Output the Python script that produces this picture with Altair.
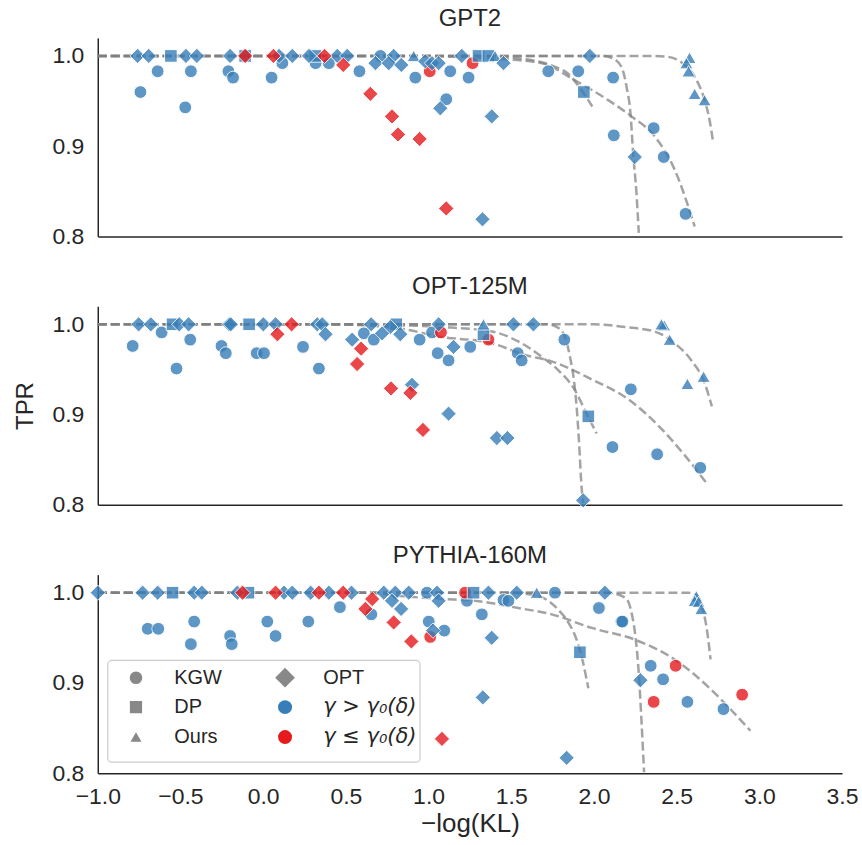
import altair as alt
import pandas as pd

FONT = "Liberation Sans"
TXT = "#262626"
BLUE = "#377eb8"
RED = "#e41a1c"
GRAY = "#888888"
W, H = 746, 199

PANELS = ["GPT2", "OPT-125M", "PYTHIA-160M"]
METHODS = ["KGW", "DP", "Ours", "OPT"]
SHAPES = ["circle", "square", "triangle-up", "diamond"]
MSIZES = [165, 160, 175, 235]
GROUPS = ["hi", "lo"]
XTICKS = [-1.0, -0.5, 0.0, 0.5, 1.0, 1.5, 2.0, 2.5, 3.0, 3.5]
YTICKS = [0.8, 0.9, 1.0]

# ---------------- GPT2 ----------------
p1_kgw_hi_x = [-0.742, -0.638, -0.471, -0.437, -0.210, -0.182, 0.051, 0.116, 0.317, 0.397, 0.582, 0.709,
               0.920, 1.107, 1.131, 1.242, 1.724, 1.905, 2.116, 2.120, 2.361, 2.422, 2.554]
p1_kgw_hi_y = [0.960, 0.983, 0.943, 0.983, 0.983, 0.976, 0.976, 0.992, 0.992, 0.992, 0.983, 1.000,
               0.976, 0.952, 0.983, 0.976, 0.983, 0.983, 0.976, 0.912, 0.920, 0.888, 0.825]
p1_kgw_lo_x = [1.007, 1.266]
p1_kgw_lo_y = [0.983, 0.992]
p1_dp_hi_x = [-0.558, -0.109, 0.315, 1.302, 1.362, 1.939]
p1_dp_hi_y = [1.0, 1.0, 1.0, 1.0, 1.0, 0.960]
p1_ours_hi_x = [0.910, 1.402, 2.578, 2.559, 2.572, 2.609, 2.669]
p1_ours_hi_y = [1.0, 1.0, 0.998, 0.992, 0.983, 0.958, 0.951]
p1_opt_hi_x = [-0.759, -0.692, -0.467, -0.401, -0.200, 0.096, 0.176, 0.277, 0.448, 0.508, 0.789, 1.201,
               1.975, 0.679, 0.759, 0.835, 0.980, 1.021, 1.061, 1.071, 1.382, 1.326, 1.453, 2.247]
p1_opt_hi_y = [1.0, 1.0, 1.0, 1.0, 1.0, 1.0, 1.0, 1.0, 1.0, 1.0, 1.0, 1.0,
               1.0, 0.992, 0.992, 0.990, 0.994, 0.992, 0.992, 0.942, 0.933, 0.819, 0.992, 0.888]
p1_opt_lo_x = [-0.109, 0.062, 0.371, 0.484, 0.648, 0.779, 0.815, 0.946, 1.107]
p1_opt_lo_y = [1.0, 1.0, 1.0, 0.990, 0.958, 0.933, 0.913, 0.908, 0.831]

p1_c1_x = [-1.0, 2.05, 2.106, 2.166, 2.197, 2.221, 2.237, 2.257, 2.271]
p1_c1_y = [1.0, 1.0, 0.998, 0.988, 0.966, 0.936, 0.892, 0.848, 0.804]
p1_c2_x = [-1.0, 1.3, 1.6, 1.75, 1.845, 1.925, 1.990]
p1_c2_y = [1.0, 1.0, 0.996, 0.989, 0.980, 0.962, 0.944]
p1_c3_x = [-1.0, 0.9, 1.4, 1.684, 1.885, 2.086, 2.227, 2.367, 2.488, 2.609]
p1_c3_y = [1.0, 1.0, 0.997, 0.992, 0.973, 0.951, 0.933, 0.911, 0.874, 0.811]
p1_c4_x = [-1.0, 2.35, 2.448, 2.528, 2.609, 2.669, 2.699, 2.720]
p1_c4_y = [1.0, 1.0, 0.999, 0.993, 0.977, 0.951, 0.929, 0.905]

# ---------------- OPT-125M ----------------
p2_kgw_hi_x = [-0.789, -0.614, -0.524, -0.441, -0.252, -0.226, -0.039, 0.005, 0.241, 0.337, 0.609, 0.669,
               0.946, 1.021, 1.055, 1.121, 1.252, 1.539, 1.563, 1.821, 2.223, 2.112, 2.382, 2.643]
p2_kgw_hi_y = [0.976, 0.991, 0.951, 0.983, 0.976, 0.968, 0.968, 0.968, 0.975, 0.951, 0.990, 0.983,
               0.983, 0.991, 0.968, 0.960, 0.975, 0.968, 0.960, 0.983, 0.928, 0.864, 0.856, 0.841]
p2_kgw_lo_x = [1.075, 1.362]
p2_kgw_lo_y = [0.991, 0.983]
p2_dp_hi_x = [-0.548, -0.085, 0.805, 1.332, 1.966]
p2_dp_hi_y = [1.0, 1.0, 1.0, 0.989, 0.898]
p2_ours_hi_x = [1.332, 2.424, 2.408, 2.458, 2.565, 2.663]
p2_ours_hi_y = [1.0, 0.999, 1.0, 0.983, 0.934, 0.942]
p2_opt_hi_x = [-0.753, -0.679, -0.507, -0.451, -0.206, -0.196, 0.001, 0.075, 0.327, 0.357, 0.653, 0.769,
               1.061, 1.513, 1.634, 0.377, 0.538, 0.719, 0.829, 0.900, 1.151, 1.121, 1.413, 1.477, 1.935]
p2_opt_hi_y = [1.0, 1.0, 1.0, 1.0, 1.0, 1.0, 1.0, 1.0, 1.0, 1.0, 1.0, 0.997,
               1.0, 1.0, 1.0, 0.989, 0.983, 0.990, 0.989, 0.933, 0.975, 0.901, 0.874, 0.874, 0.805]
p2_opt_lo_x = [0.086, 0.172, 0.592, 0.568, 0.773, 0.890, 0.966]
p2_opt_lo_y = [0.989, 1.0, 0.973, 0.956, 0.929, 0.924, 0.883]

p2_c1_x = [-1.0, 1.724, 1.785, 1.825, 1.855, 1.881, 1.895, 1.909, 1.925, 1.935]
p2_c1_y = [1.0, 1.0, 0.996, 0.986, 0.964, 0.935, 0.909, 0.872, 0.820, 0.802]
p2_c2_x = [-1.0, 0.3, 0.8, 1.081, 1.382, 1.543, 1.684, 1.785, 1.885, 1.945, 2.016]
p2_c2_y = [1.0, 1.0, 0.999, 0.997, 0.992, 0.981, 0.964, 0.949, 0.927, 0.905, 0.879]
p2_c3_x = [-1.0, 0.4, 0.8, 1.081, 1.382, 1.583, 1.744, 1.986, 2.207, 2.388, 2.548, 2.689]
p2_c3_y = [1.0, 1.0, 0.996, 0.986, 0.979, 0.966, 0.959, 0.939, 0.917, 0.888, 0.855, 0.822]
p2_c4_x = [-1.0, 2.0, 2.186, 2.367, 2.488, 2.589, 2.669, 2.713]
p2_c4_y = [1.0, 1.0, 0.997, 0.992, 0.979, 0.960, 0.935, 0.909]

# ---------------- PYTHIA-160M ----------------
p3_kgw_hi_x = [-0.698, -0.634, -0.417, -0.437, -0.200, -0.190, 0.025, 0.075, 0.273, 0.464, 0.654, 0.990,
               1.001, 1.095, 1.232, 1.453, 1.483, 1.322, 1.764, 2.030, 2.166, 2.172, 2.343, 2.418, 2.565, 2.783]
p3_kgw_hi_y = [0.960, 0.960, 0.968, 0.943, 0.952, 0.943, 0.968, 0.952, 0.968, 0.984, 0.976, 1.0,
               0.968, 0.958, 0.991, 0.992, 0.991, 0.976, 1.0, 0.983, 0.968, 0.968, 0.919, 0.904, 0.879, 0.871]
p3_kgw_lo_x = [1.221, 1.010, 2.494, 2.361, 2.896]
p3_kgw_lo_y = [1.0, 0.951, 0.919, 0.879, 0.887]
p3_dp_hi_x = [-0.548, -0.089, 1.272, 1.915]
p3_dp_hi_y = [1.0, 1.0, 1.0, 0.934]
p3_ours_hi_x = [1.654, 2.619, 2.609, 2.633, 2.649]
p3_ours_hi_y = [1.0, 0.996, 0.991, 0.990, 0.982]
p3_opt_hi_x = [-1.0, -0.729, -0.638, -0.417, -0.371, -0.156, 0.126, 0.176, 0.287, 0.397, 0.534, 0.729,
               0.799, 0.880, 1.051, 1.362, 1.533, 2.066, 0.779, 0.834, 1.061, 1.027, 1.382, 1.328, 1.835, 2.281]
p3_opt_hi_y = [1.0, 1.0, 1.0, 1.0, 1.0, 1.0, 1.0, 1.0, 1.0, 1.0, 1.0, 1.0,
               1.0, 1.0, 1.0, 1.0, 1.0, 1.0, 0.991, 0.982, 0.991, 0.958, 0.950, 0.884, 0.817, 0.903]
p3_opt_lo_x = [-0.125, 0.075, 0.337, 0.484, 0.618, 0.659, 0.789, 0.896, 1.081]
p3_opt_lo_y = [1.0, 1.0, 1.0, 1.0, 0.982, 0.993, 0.967, 0.946, 0.838]

p3_c1_x = [-1.0, 1.5, 1.62, 1.724, 1.785, 1.845, 1.895, 1.935, 1.966]
p3_c1_y = [1.0, 1.0, 0.998, 0.991, 0.981, 0.967, 0.948, 0.922, 0.894]
p3_c2_x = [-1.0, 2.08, 2.126, 2.197, 2.227, 2.253, 2.271, 2.287, 2.303]
p3_c2_y = [1.0, 1.0, 0.999, 0.993, 0.978, 0.948, 0.911, 0.859, 0.801]
p3_c3_x = [-1.0, 0.6, 0.85, 1.08, 1.282, 1.543, 1.744, 1.986, 2.247, 2.488, 2.689, 2.830, 2.946]
p3_c3_y = [1.0, 1.0, 0.996, 0.993, 0.991, 0.983, 0.976, 0.961, 0.948, 0.926, 0.896, 0.870, 0.847]
p3_c4_x = [-1.0, 2.569, 2.629, 2.659, 2.683, 2.705]
p3_c4_y = [1.0, 1.0, 0.996, 0.981, 0.959, 0.926]

LEGEND_LEFT = ["KGW", "DP", "Ours"]
LEGEND_RIGHT = ["OPT", "γ > γ₀(δ)", "γ ≤ γ₀(δ)"]


def series(method, group, xs, ys):
    return pd.DataFrame({"method": method, "group": group, "x": xs, "y": ys})


def curves(*pairs):
    frames = []
    for i, (xs, ys) in enumerate(pairs):
        frames.append(pd.DataFrame({"curve": f"c{i}", "x": xs, "y": ys}))
    return pd.concat(frames, ignore_index=True)


pts1 = pd.concat([
    series("KGW", "hi", p1_kgw_hi_x, p1_kgw_hi_y),
    series("DP", "hi", p1_dp_hi_x, p1_dp_hi_y),
    series("Ours", "hi", p1_ours_hi_x, p1_ours_hi_y),
    series("OPT", "hi", p1_opt_hi_x, p1_opt_hi_y),
    series("KGW", "lo", p1_kgw_lo_x, p1_kgw_lo_y),
    series("OPT", "lo", p1_opt_lo_x, p1_opt_lo_y),
], ignore_index=True)
pts2 = pd.concat([
    series("KGW", "hi", p2_kgw_hi_x, p2_kgw_hi_y),
    series("DP", "hi", p2_dp_hi_x, p2_dp_hi_y),
    series("Ours", "hi", p2_ours_hi_x, p2_ours_hi_y),
    series("OPT", "hi", p2_opt_hi_x, p2_opt_hi_y),
    series("KGW", "lo", p2_kgw_lo_x, p2_kgw_lo_y),
    series("OPT", "lo", p2_opt_lo_x, p2_opt_lo_y),
], ignore_index=True)
pts3 = pd.concat([
    series("KGW", "hi", p3_kgw_hi_x, p3_kgw_hi_y),
    series("DP", "hi", p3_dp_hi_x, p3_dp_hi_y),
    series("Ours", "hi", p3_ours_hi_x, p3_ours_hi_y),
    series("OPT", "hi", p3_opt_hi_x, p3_opt_hi_y),
    series("KGW", "lo", p3_kgw_lo_x, p3_kgw_lo_y),
    series("OPT", "lo", p3_opt_lo_x, p3_opt_lo_y),
], ignore_index=True)

crv1 = curves((p1_c1_x, p1_c1_y), (p1_c2_x, p1_c2_y), (p1_c3_x, p1_c3_y), (p1_c4_x, p1_c4_y))
crv2 = curves((p2_c1_x, p2_c1_y), (p2_c2_x, p2_c2_y), (p2_c3_x, p2_c3_y), (p2_c4_x, p2_c4_y))
crv3 = curves((p3_c1_x, p3_c1_y), (p3_c2_x, p3_c2_y), (p3_c3_x, p3_c3_y), (p3_c4_x, p3_c4_y))

XS = alt.Scale(domain=[-1.0, 3.5], nice=False, zero=False)
YS = alt.Scale(domain=[0.8, 1.02], nice=False, zero=False)
CS = alt.Scale(domain=GROUPS, range=[BLUE, RED])
ONE = pd.DataFrame({"k": [0]})


def legend_layers():
    layers = [
        alt.Chart(ONE).mark_rect(fill="white", fillOpacity=0.85, stroke="#cccccc",
                                 strokeWidth=1.2, cornerRadius=4).encode(
            x=alt.value(10), x2=alt.value(323), y=alt.value(86), y2=alt.value(188))
    ]
    rows = [103.3, 132.8, 162.8]
    left_style = [("circle", GRAY, 160), ("square", GRAY, 150), ("triangle-up", GRAY, 120)]
    right_style = [("diamond", GRAY, 390), ("circle", BLUE, 196), ("circle", RED, 196)]
    for i, lab in enumerate(LEGEND_LEFT):
        shp, col, sz = left_style[i]
        layers.append(alt.Chart(ONE).mark_point(shape=shp, filled=True, color=col, size=sz, opacity=1)
                      .encode(x=alt.value(38.3), y=alt.value(rows[i])))
        layers.append(alt.Chart(ONE).mark_text(align="left", baseline="middle", font=FONT, fontSize=20,
                                               color=TXT)
                      .encode(x=alt.value(76.7), y=alt.value(rows[i]), text=alt.value(lab)))
    for i, lab in enumerate(LEGEND_RIGHT):
        shp, col, sz = right_style[i]
        layers.append(alt.Chart(ONE).mark_point(shape=shp, filled=True, color=col, size=sz, opacity=1)
                      .encode(x=alt.value(187.7), y=alt.value(rows[i])))
        if i == 0:
            tm = alt.Chart(ONE).mark_text(align="left", baseline="middle", font=FONT, fontSize=20, color=TXT)
        else:
            tm = alt.Chart(ONE).mark_text(align="left", baseline="middle", font="DejaVu Sans",
                                          fontStyle="italic", fontSize=21, color=TXT)
        layers.append(tm.encode(x=alt.value(226), y=alt.value(rows[i]), text=alt.value(lab)))
    return layers


def panel(title, pts, crv, bottom, ytitle, legend):
    if bottom:
        xaxis = alt.Axis(values=XTICKS, format=".1f", title="−log(KL)", labelFontSize=23,
                         labelPadding=12, titleFontSize=26, titlePadding=2, labelFlush=False,
                         labelOverlap=False)
    else:
        xaxis = alt.Axis(labels=False, title=None, values=XTICKS)
    yaxis = alt.Axis(values=YTICKS, format=".1f", labelFontSize=23, labelPadding=14,
                     labelFlush=False, labelOverlap=False,
                     title=("TPR" if ytitle else None), titleFontSize=24, titlePadding=14)
    lines = alt.Chart(crv).mark_line(color="#808080", opacity=0.72, strokeWidth=2.5,
                                     strokeDash=[9, 4], interpolate="monotone").encode(
        x=alt.X("x:Q", scale=XS, axis=xaxis),
        y=alt.Y("y:Q", scale=YS, axis=yaxis),
        detail="curve:N",
    )
    layers = [lines]
    for m, shp, sz in zip(METHODS, SHAPES, MSIZES):
        sub = pts[pts["method"] == m]
        layers.append(
            alt.Chart(sub).mark_point(shape=shp, size=sz, filled=True, opacity=0.8,
                                      stroke="white", strokeWidth=1).encode(
                x=alt.X("x:Q", scale=XS),
                y=alt.Y("y:Q", scale=YS),
                color=alt.Color("group:N", scale=CS, legend=None),
            )
        )
    ttl = alt.Chart(pd.DataFrame({"t": [title]})).mark_text(
        align="center", baseline="alphabetic", font=FONT, fontSize=24, color=TXT).encode(
        x=alt.value(W / 2), y=alt.value(-12), text="t:N")
    layers.append(ttl)
    if legend:
        layers += legend_layers()
    return alt.layer(*layers).properties(width=W, height=H)


chart = alt.vconcat(
    panel(PANELS[0], pts1, crv1, False, False, False),
    panel(PANELS[1], pts2, crv2, False, True, False),
    panel(PANELS[2], pts3, crv3, True, False, True),
    spacing=70,
    bounds="flush",
).properties(
    padding={"left": 14, "top": 6, "right": 4, "bottom": 4},
    background="white",
).configure_view(stroke=None).configure_axis(
    grid=False, ticks=False, domainColor=TXT, domainWidth=1.5,
    labelFont=FONT, titleFont=FONT, labelColor=TXT, titleColor=TXT, titleFontWeight="normal",
)

chart.save("out.html", embed_options={"renderer": "svg", "actions": False})
